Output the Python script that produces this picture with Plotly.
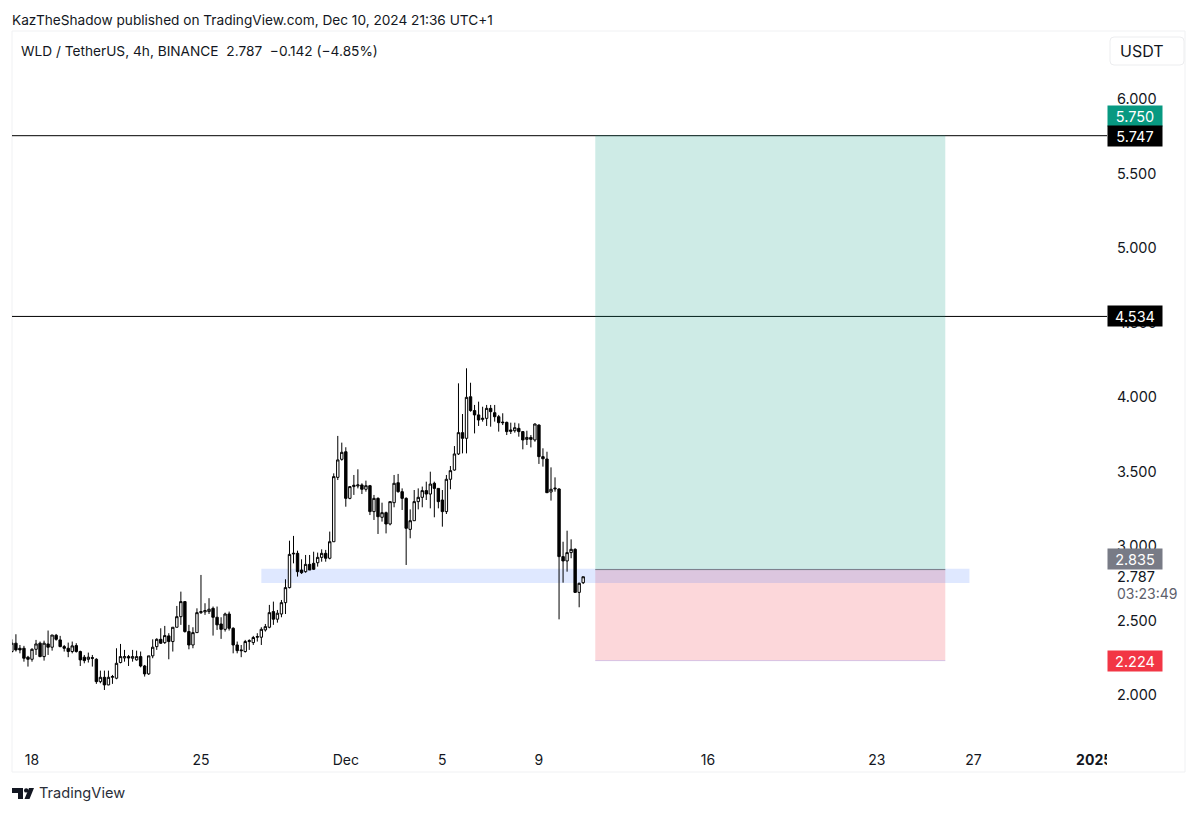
import pandas as pd
import plotly.graph_objects as go

opens = [2.285,2.341,2.307,2.307,2.247,2.233,2.300,2.341,2.251,2.336,
2.314,2.394,2.363,2.318,2.307,2.285,2.325,2.285,2.247,2.233,
2.244,2.233,2.083,2.112,2.061,2.112,2.106,2.211,2.242,2.251,
2.240,2.229,2.251,2.188,2.135,2.256,2.318,2.367,2.345,2.390,
2.352,2.448,2.519,2.620,2.419,2.329,2.412,2.546,2.551,2.553,
2.575,2.515,2.470,2.434,2.537,2.441,2.329,2.296,2.285,2.352,
2.345,2.381,2.381,2.430,2.448,2.553,2.502,2.537,2.613,2.714,
2.940,2.944,2.832,2.821,2.870,2.877,2.881,2.917,2.944,2.911,
3.022,3.454,3.575,3.626,3.313,3.392,3.396,3.403,3.374,3.398,
3.224,3.313,3.186,3.217,3.141,3.284,3.418,3.358,3.313,3.105,
3.163,3.291,3.320,3.365,3.342,3.414,3.380,3.302,3.224,3.441,
3.503,3.611,3.754,3.716,3.995,3.902,3.873,3.843,3.850,3.917,
3.888,3.861,3.825,3.823,3.772,3.767,3.783,3.761,3.709,3.722,
3.705,3.805,3.593,3.577,3.356,3.376,3.376,2.922,2.893,2.949,
2.971,2.682,2.747]
highs = [2.367,2.401,2.329,2.323,2.256,2.307,2.363,2.352,2.358,2.426,
2.396,2.403,2.390,2.329,2.345,2.352,2.341,2.291,2.262,2.278,
2.262,2.240,2.157,2.157,2.157,2.128,2.307,2.336,2.296,2.262,
2.296,2.291,2.285,2.195,2.256,2.367,2.374,2.441,2.457,2.408,
2.448,2.591,2.687,2.620,2.464,2.448,2.575,2.799,2.609,2.643,
2.587,2.587,2.515,2.546,2.553,2.448,2.352,2.329,2.363,2.367,
2.390,2.408,2.448,2.470,2.598,2.620,2.564,2.631,2.770,3.029,
3.061,2.962,2.904,2.933,2.933,2.955,2.949,2.971,2.967,3.090,
3.481,3.732,3.687,3.656,3.396,3.470,3.508,3.414,3.432,3.403,
3.336,3.320,3.284,3.224,3.291,3.470,3.477,3.380,3.320,3.239,
3.369,3.380,3.392,3.425,3.492,3.425,3.380,3.369,3.470,3.530,
3.664,4.085,3.879,4.186,4.089,3.940,3.962,3.928,3.940,3.940,
3.940,3.873,3.884,3.828,3.821,3.821,3.816,3.761,3.767,3.738,
3.816,3.810,3.649,3.626,3.521,3.454,3.381,3.022,3.096,3.038,
2.978,2.747,2.787]
lows = [2.278,2.285,2.273,2.217,2.184,2.217,2.262,2.247,2.224,2.262,
2.291,2.358,2.314,2.285,2.247,2.273,2.278,2.188,2.206,2.211,
2.184,2.068,2.072,2.027,2.059,2.068,2.099,2.206,2.217,2.188,
2.217,2.224,2.179,2.117,2.128,2.240,2.296,2.336,2.336,2.233,
2.285,2.448,2.464,2.412,2.300,2.307,2.412,2.537,2.531,2.537,
2.392,2.430,2.370,2.419,2.426,2.273,2.273,2.247,2.278,2.296,
2.329,2.352,2.329,2.419,2.441,2.464,2.479,2.515,2.537,2.709,
2.877,2.788,2.806,2.814,2.832,2.832,2.855,2.888,2.888,2.904,
3.022,3.436,3.566,3.257,3.307,3.336,3.380,3.342,3.358,3.201,
3.168,3.074,3.157,3.078,3.132,3.253,3.351,3.235,2.866,3.045,
3.163,3.239,3.253,3.302,3.246,3.186,3.246,3.123,3.208,3.374,
3.499,3.604,3.615,3.615,3.895,3.749,3.799,3.828,3.799,3.794,
3.828,3.761,3.805,3.738,3.745,3.754,3.727,3.642,3.671,3.655,
3.693,3.544,3.526,3.351,3.298,3.358,2.501,2.747,2.821,2.911,
2.682,2.582,2.738]
closes = [2.341,2.296,2.296,2.240,2.233,2.300,2.336,2.251,2.341,2.314,
2.396,2.367,2.318,2.307,2.285,2.323,2.285,2.229,2.224,2.247,
2.240,2.083,2.112,2.061,2.112,2.117,2.206,2.251,2.251,2.242,
2.251,2.251,2.188,2.135,2.256,2.314,2.367,2.341,2.392,2.352,
2.448,2.519,2.620,2.419,2.329,2.412,2.546,2.553,2.560,2.569,
2.515,2.464,2.434,2.537,2.441,2.329,2.291,2.291,2.352,2.358,
2.379,2.385,2.434,2.452,2.546,2.502,2.542,2.613,2.714,2.937,
2.944,2.821,2.814,2.870,2.832,2.837,2.917,2.944,2.911,3.022,
3.459,3.571,3.622,3.313,3.392,3.401,3.403,3.374,3.398,3.224,
3.313,3.190,3.217,3.141,3.291,3.414,3.358,3.313,3.112,3.163,
3.291,3.320,3.365,3.342,3.409,3.380,3.291,3.224,3.441,3.499,
3.611,3.754,3.716,3.991,3.902,3.873,3.839,3.850,3.917,3.895,
3.861,3.821,3.821,3.761,3.763,3.787,3.761,3.705,3.722,3.709,
3.812,3.593,3.579,3.351,3.374,3.381,2.922,2.893,2.949,2.971,
2.682,2.743,2.787]

dates = pd.date_range("2024-11-17 04:00", periods=len(opens), freq="4h")

price_ticks = [2.0, 2.5, 3.0, 3.5, 4.0, 4.5, 5.0, 5.5, 6.0]
time_tick_vals = ["2024-11-18", "2024-11-25", "2024-12-01", "2024-12-05", "2024-12-09",
                  "2024-12-16", "2024-12-23", "2024-12-27", "2025-01-01"]
time_tick_text = ["18", "25", "Dec", "5", "9", "16", "23", "27", "<b>2025</b>"]

resistance_1 = 5.747
resistance_2 = 4.534
target = 5.750
entry = 2.835
stop = 2.224
last_price = 2.787
zone_low, zone_high = 2.745, 2.84
position_start, position_end = "2024-12-11 08:00", "2024-12-25 20:00"
zone_start, zone_end = "2024-11-27 12:00", "2024-12-26 20:00"

FONT = "Inter"
W, H = 1200, 814
L, R, T, B = 12, 1107, 31, 744


def X(px):
    return (px - L) / (R - L)


def Y(py):
    return (B - py) / (B - T)


fig = go.Figure(go.Candlestick(
    x=dates, open=opens, high=highs, low=lows, close=closes,
    increasing=dict(line=dict(color="#000000", width=1), fillcolor="#ffffff"),
    decreasing=dict(line=dict(color="#000000", width=1), fillcolor="#000000"),
    whiskerwidth=0, showlegend=False, hoverinfo="skip",
))

shapes = [
    dict(type="rect", xref="paper", yref="paper", x0=0, x1=X(1185), y0=Y(772), y1=1,
         line=dict(color="#F0F1F3", width=1), fillcolor="rgba(0,0,0,0)", layer="below"),
    dict(type="rect", x0=position_start, x1=position_end, y0=entry, y1=target,
         fillcolor="rgba(8,153,129,0.2)", line=dict(width=0), layer="below"),
    dict(type="rect", x0=position_start, x1=position_end, y0=stop, y1=entry,
         fillcolor="rgba(242,54,69,0.2)", line=dict(width=0), layer="below"),
    dict(type="rect", x0=zone_start, x1=zone_end, y0=zone_low, y1=zone_high,
         fillcolor="rgba(41,98,255,0.15)", line=dict(width=0), layer="below"),
    dict(type="line", x0=position_start, x1=position_end, y0=entry, y1=entry,
         line=dict(color="#787B86", width=1), layer="below"),
    dict(type="line", x0=position_start, x1=position_end, y0=stop, y1=stop,
         line=dict(color="rgba(120,90,200,0.3)", width=1), layer="below"),
    dict(type="line", xref="paper", x0=0, x1=1, y0=resistance_1, y1=resistance_1,
         line=dict(color="#000000", width=1), layer="below"),
    dict(type="line", xref="paper", x0=0, x1=1, y0=resistance_2, y1=resistance_2,
         line=dict(color="#000000", width=1), layer="below"),
    # clips the last time label at the price-scale edge
    dict(type="rect", xref="paper", yref="paper", x0=X(1107), x1=X(1184), y0=Y(771), y1=Y(746),
         fillcolor="#ffffff", line=dict(width=0), layer="above"),
    # USDT button
    dict(type="path", xref="paper", yref="paper",
         path=" ".join([
             f"M {X(1114)} {Y(37)}", f"L {X(1180)} {Y(37)}", f"Q {X(1184)} {Y(37)} {X(1184)} {Y(41)}",
             f"L {X(1184)} {Y(61)}", f"Q {X(1184)} {Y(65)} {X(1180)} {Y(65)}",
             f"L {X(1114)} {Y(65)}", f"Q {X(1110)} {Y(65)} {X(1110)} {Y(61)}",
             f"L {X(1110)} {Y(41)}", f"Q {X(1110)} {Y(37)} {X(1114)} {Y(37)} Z"]),
         line=dict(color="#ECEDEF", width=1), fillcolor="#ffffff"),
    # TradingView logo
    dict(type="path", xref="paper", yref="paper", line=dict(width=0), fillcolor="#131722",
         path=" ".join([
             f"M {X(12)} {Y(788)}", f"L {X(23)} {Y(788)}", f"L {X(23)} {Y(799)}",
             f"L {X(18)} {Y(799)}", f"L {X(18)} {Y(793)}", f"L {X(12)} {Y(793)} Z"])),
    dict(type="circle", xref="paper", yref="paper", line=dict(width=0), fillcolor="#131722",
         x0=X(24), x1=X(28.4), y0=Y(792.6), y1=Y(788.2)),
    dict(type="path", xref="paper", yref="paper", line=dict(width=0), fillcolor="#131722",
         path=" ".join([
             f"M {X(29)} {Y(788)}", f"L {X(34)} {Y(788)}", f"L {X(29.5)} {Y(799)}",
             f"L {X(24.5)} {Y(799)} Z"])),
]


def text(s, px, py, size, color="#131722", anchor="left"):
    return dict(text=s, xref="paper", yref="paper", x=X(px), y=Y(py), xanchor=anchor,
                yanchor="middle", showarrow=False, font=dict(family=FONT, size=size, color=color))


def price_tag(value, bg, shift=0):
    return dict(text=f"{value:.3f}", xref="paper", yref="y", x=X(1107), y=value, yshift=shift,
                xanchor="left", yanchor="middle", showarrow=False, width=54, height=20,
                align="center", bgcolor=bg, borderpad=0,
                font=dict(family=FONT, size=14.5, color="#ffffff"))


annotations = [
    text("KazTheShadow published on TradingView.com, Dec 10, 2024 21:36 UTC+1", 10, 20, 13.65),
    text("WLD / TetherUS, 4h, BINANCE&nbsp;&nbsp;2.787&nbsp;&nbsp;\u22120.142 (\u22124.85%)", 19, 51, 13.7),
    text("USDT", 1142, 51, 16, anchor="center"),
    text("TradingView", 37, 793, 14.6, color="#2A2E39"),
    price_tag(target, "#089981", shift=19),
    price_tag(resistance_1, "#000000"),
    price_tag(resistance_2, "#000000"),
    price_tag(entry, "#787B86", shift=11),
    price_tag(stop, "#F23645"),
    dict(text=f"{last_price:.3f}", xref="paper", yref="y", x=X(1115), y=last_price, xanchor="left",
         yanchor="middle", showarrow=False, font=dict(family=FONT, size=14.5, color="#131722")),
    text("03:23:49", 1114.5, 593, 14, color="#5D606B"),
]

fig.update_layout(
    width=W, height=H, autosize=False,
    margin=dict(l=L, r=W - R, t=T, b=H - B, pad=0),
    paper_bgcolor="#ffffff", plot_bgcolor="#ffffff",
    font=dict(family=FONT, color="#131722", size=14),
    boxgap=0.15,
    hovermode=False, dragmode=False,
    shapes=shapes, annotations=annotations,
    xaxis=dict(type="date", range=["2024-11-17 04:07", "2025-01-01 12:47"],
               rangeslider=dict(visible=False), showgrid=False, zeroline=False, showline=False,
               tickmode="array", tickvals=time_tick_vals, ticktext=time_tick_text,
               ticks="outside", ticklen=3, tickcolor="rgba(0,0,0,0)", tickfont=dict(size=14)),
    yaxis=dict(side="right", range=[2 + (694 - 744) / 149, 2 + (694 - 31) / 149],
               showgrid=False, zeroline=False, showline=False,
               tickmode="array", tickvals=price_ticks, tickformat=".3f",
               ticks="outside", ticklen=6, tickcolor="rgba(0,0,0,0)", tickfont=dict(size=14.5),
               ticklabelshift=1),
)

fig.write_html("out.html", post_script="document.body.style.margin='0';",
               config=dict(displayModeBar=False))
